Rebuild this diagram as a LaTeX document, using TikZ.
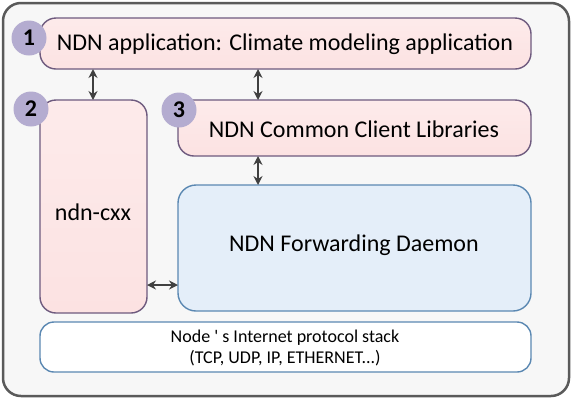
\documentclass[tikz,border=0pt]{standalone}
\usepackage{fontspec}
\setmainfont{Carlito}
\usetikzlibrary{arrows.meta}
\definecolor{pinkfill}{HTML}{FCE2E2}
\definecolor{pinkdraw}{HTML}{6E5A7E}
\definecolor{bluefill}{HTML}{E4EEF9}
\definecolor{bluedraw}{HTML}{5B88B2}
\definecolor{badge}{HTML}{B4ACD0}
\definecolor{frame}{HTML}{5A5A5A}
\definecolor{arr}{HTML}{404040}
\tikzset{
  pinkbox/.style={draw=pinkdraw, line width=1.4pt, rounded corners=16pt, top color=pinkfill!70!white, bottom color=pinkfill},
  bluebox/.style={draw=bluedraw, line width=1.4pt, rounded corners=18pt, fill=bluefill},
  whitebox/.style={draw=bluedraw, line width=1.4pt, rounded corners=14pt, fill=white},
  badgec/.style={circle, fill=badge, minimum size=35pt, inner sep=0pt, font=\fontsize{24}{26}\selectfont\bfseries},
  conn/.style={draw=arr, line width=1.6pt, {Stealth[length=9pt,width=9pt]}-{Stealth[length=9pt,width=9pt]}},
  bigtext/.style={font=\fontsize{24}{28}\selectfont},
}
\begin{document}
\begin{tikzpicture}[x=1pt,y=-1pt]
\useasboundingbox (0,0) rectangle (572,400);
\draw[draw=frame, line width=2.5pt, fill=white!97!black, rounded corners=18pt] (3,3) rectangle (569,396);
% boxes
\draw[pinkbox] (40,18) rectangle (531,69);
\node[bigtext] (app) at (285,44) {NDN application: Climate modeling application};
\draw[pinkbox] (40,100) rectangle (147,313);
\node[bigtext] (cxx) at (93,212) {ndn-cxx};
\draw[pinkbox] (178,100) rectangle (531,156);
\node[bigtext] (ccl) at (354,129) {NDN Common Client Libraries};
\draw[bluebox] (178,185) rectangle (531,311);
\node[bigtext] (nfd) at (354,245) {NDN Forwarding Daemon};
\draw[whitebox] (40,322) rectangle (531,372);
\node[align=center, font=\fontsize{18}{21}\selectfont] (ip) at (285,348) {Node \textquotesingle\ s Internet protocol stack\\(TCP, UDP, IP, ETHERNET...)};
% named anchors for connectors
\coordinate (a1) at (93,69); \coordinate (a2) at (93,100);
\coordinate (b1) at (258,69); \coordinate (b2) at (258,100);
\coordinate (c1) at (258,156); \coordinate (c2) at (258,185);
\coordinate (d1) at (147,285); \coordinate (d2) at (178,285);
\draw[conn] (a1) -- (a2);
\draw[conn] (b1) -- (b2);
\draw[conn] (c1) -- (c2);
\draw[conn] (d1) -- (d2);
% badges
\node[badgec] (n1) at (29,38) {1};
\node[badgec] (n2) at (31,109) {2};
\node[badgec] (n3) at (179,110) {3};
\end{tikzpicture}
\end{document}
